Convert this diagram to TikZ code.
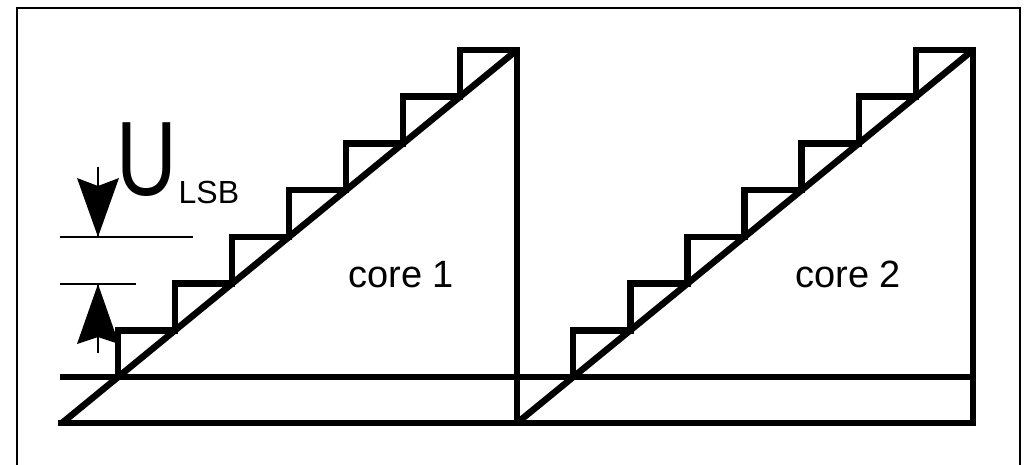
\documentclass[tikz,border=0pt]{standalone}
\usepackage{fontspec}
\setmainfont{Liberation Sans}
\begin{document}
\begin{tikzpicture}[x=1pt,y=-1pt,
  stairline/.style={line width=6.5pt,line join=miter},
  dimline/.style={line width=2pt},
  framline/.style={line width=2.5pt},
  headfill/.style={fill=black,draw=none},
  lbl/.style={inner sep=0pt,outer sep=0pt,anchor=base west}]
\useasboundingbox (0,0) rectangle (1029,464);
% frame
\coordinate (fbl) at (17,466);
\coordinate (ftl) at (17,8);
\coordinate (ftr) at (1020,8);
\coordinate (fbr) at (1020,466);
\draw[framline] (fbl) -- (ftl) -- (ftr) -- (fbr);
% key points
\coordinate (c1bl) at (62,423);
\coordinate (c1tr) at (517,50);
\coordinate (c1vt) at (517,47);
\coordinate (c1vb) at (517,426);
\coordinate (c2bl) at (517,423);
\coordinate (c2tr) at (973,50);
\coordinate (c2vt) at (973,47);
\coordinate (c2vb) at (973,426);
\coordinate (bl) at (58,423);
\coordinate (br) at (976,423);
\coordinate (hl) at (60,377);
\coordinate (hr) at (973,377);
\coordinate (s1) at (118.1,377);
\coordinate (s2) at (573.2,377);
% base and horizontal line
\draw[stairline] (bl) -- (br);
\draw[stairline] (hl) -- (hr);
% core 1
\draw[stairline] (c1bl) -- (c1tr);
\draw[stairline] (c1vt) -- (c1vb);
\draw[stairline] (s1) \foreach \k in {0,...,6} { -- ++(0,-46.714) -- ++(56.99,0) };
% core 2
\draw[stairline] (c2bl) -- (c2tr);
\draw[stairline] (c2vt) -- (c2vb);
\draw[stairline] (s2) \foreach \k in {0,...,6} { -- ++(0,-46.714) -- ++(57.11,0) };
% dimension lines
\coordinate (d1l) at (60,237);
\coordinate (d1r) at (193,237);
\coordinate (d2l) at (60,284);
\coordinate (d2r) at (136,284);
\draw[dimline] (d1l) -- (d1r);
\draw[dimline] (d2l) -- (d2r);
% down arrow
\coordinate (a1s) at (98,167);
\coordinate (a1t) at (98,237);
\draw[dimline] (a1s) -- (a1t);
\path[headfill] (a1t) -- (77,178) .. controls (88,182) .. (98,186) .. controls (108,182) .. (119,178) -- cycle;
% up arrow
\coordinate (a2s) at (98,353);
\coordinate (a2t) at (98,284);
\draw[dimline] (a2s) -- (a2t);
\path[headfill] (a2t) -- (77,344) .. controls (88,340) .. (98,337) .. controls (108,340) .. (119,344) -- cycle;
% labels
\node[inner sep=0pt,anchor=base] (u) at (147,195) {\scalebox{1}[1.26]{\fontsize{84}{84}\selectfont U}};
\node[lbl] (lsb) at (178.7,203) {\fontsize{32}{32}\selectfont LSB};
\node[lbl] (core1) at (348.5,287) {\fontsize{38}{38}\selectfont core 1};
\node[lbl] (core2) at (795.5,287) {\fontsize{38}{38}\selectfont core 2};
\end{tikzpicture}
\end{document}
